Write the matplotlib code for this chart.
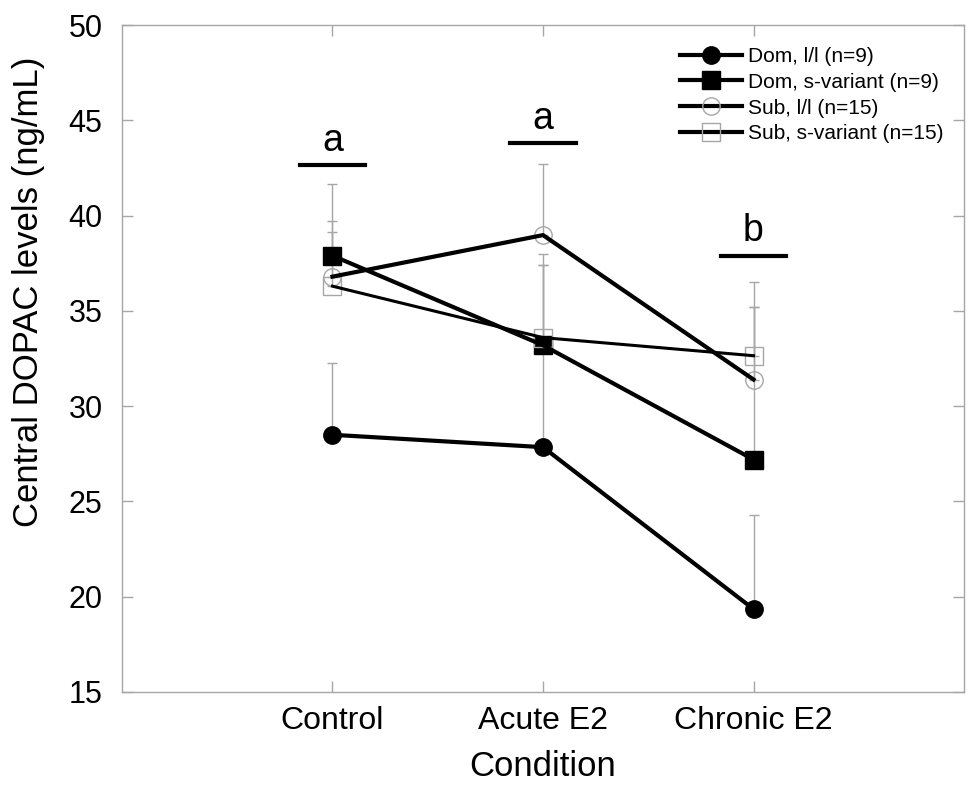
import numpy as np
import matplotlib
matplotlib.use("Agg")
import matplotlib.pyplot as plt

plt.rcParams['font.family'] = ['Liberation Sans', 'DejaVu Sans']

# Conditions on the x axis
conditions = ["Control", "Acute E2", "Chronic E2"]
x = np.arange(1, len(conditions) + 1)

# Group means (ng/mL)
dom_ll = [28.5, 27.85, 19.35]
dom_sv = [37.9, 33.2, 27.2]
sub_ll = [36.8, 38.98, 31.4]
sub_sv = [36.3, 33.6, 32.65]

# Upper ends of the error bars
dom_ll_top = [32.25, 37.4, 24.3]
dom_sv_top = [41.65, 38.0, 36.5]
sub_ll_top = [39.7, 42.7, 35.2]
sub_sv_top = [39.15, 37.4, 35.2]

# Significance letters and bar heights
sig_letters = ["a", "a", "b"]
sig_heights = [42.65, 43.8, 37.9]

fig = plt.figure(figsize=(9.68, 7.86), dpi=100)
ax = fig.add_axes([0.126, 0.1196, 0.8699, 0.8484])

gray = "#a6a6a6"

series = [
    (dom_ll, dom_ll_top, "o", "black", "black", 3.0, "Dom, l/l (n=9)"),
    (dom_sv, dom_sv_top, "s", "black", "black", 3.0, "Dom, s-variant (n=9)"),
    (sub_ll, sub_ll_top, "o", "none", gray, 3.0, "Sub, l/l (n=15)"),
    (sub_sv, sub_sv_top, "s", "none", gray, 2.2, "Sub, s-variant (n=15)"),
]

# upper-only error bars
for mean, top, *_ in series:
    err = np.array(top) - np.array(mean)
    ax.errorbar(x, mean, yerr=[np.zeros(3), err], fmt="none",
                ecolor=gray, elinewidth=1, capsize=3.5, capthick=1, zorder=1)

handles = []
for mean, top, mk, fc, ec, lw, lab in series:
    ax.plot(x, mean, linestyle="none", marker=mk, markersize=12.5,
            markerfacecolor=fc, markeredgecolor=ec, markeredgewidth=1, zorder=2)
    ax.plot(x, mean, color="black", linewidth=lw, zorder=3)
    h, = ax.plot([], [], color="black", linewidth=3, marker=mk, markersize=12.5,
                 markerfacecolor=fc, markeredgecolor=ec, markeredgewidth=1)
    handles.append((h, lab))

# significance bars and letters
for xi, h, let in zip(x, sig_heights, sig_letters):
    ax.plot([xi - 0.155, xi + 0.155], [h, h], color="black", linewidth=3)
    ax.text(xi, h + 0.35, let, ha="center", va="bottom", fontsize=27)

ax.set_xlim(0, 4)
ax.set_ylim(15, 50)
ax.set_xticks(x)
ax.set_xticklabels(conditions)
ax.set_yticks(np.arange(15, 51, 5))

for s in ax.spines.values():
    s.set_color(gray)
    s.set_linewidth(1)
ax.tick_params(direction="in", length=8, width=1, color=gray,
               top=True, right=True)
ax.tick_params(axis="x", labelsize=23, pad=10)
ax.tick_params(axis="y", labelsize=22, pad=14)

ax.set_xlabel("Condition", fontsize=25, labelpad=10)
ax.set_ylabel("Central DOPAC levels (ng/mL)", fontsize=25)
ax.yaxis.set_label_coords(-0.091, 0.6)

ax.legend([h for h, _ in handles], [l for _, l in handles], loc="upper right",
          bbox_to_anchor=(0.985, 0.98), frameon=False, fontsize=15,
          handlelength=3.0, handletextpad=0.25, labelspacing=0.33,
          borderaxespad=0)

fig.savefig("out.png", dpi=100)
